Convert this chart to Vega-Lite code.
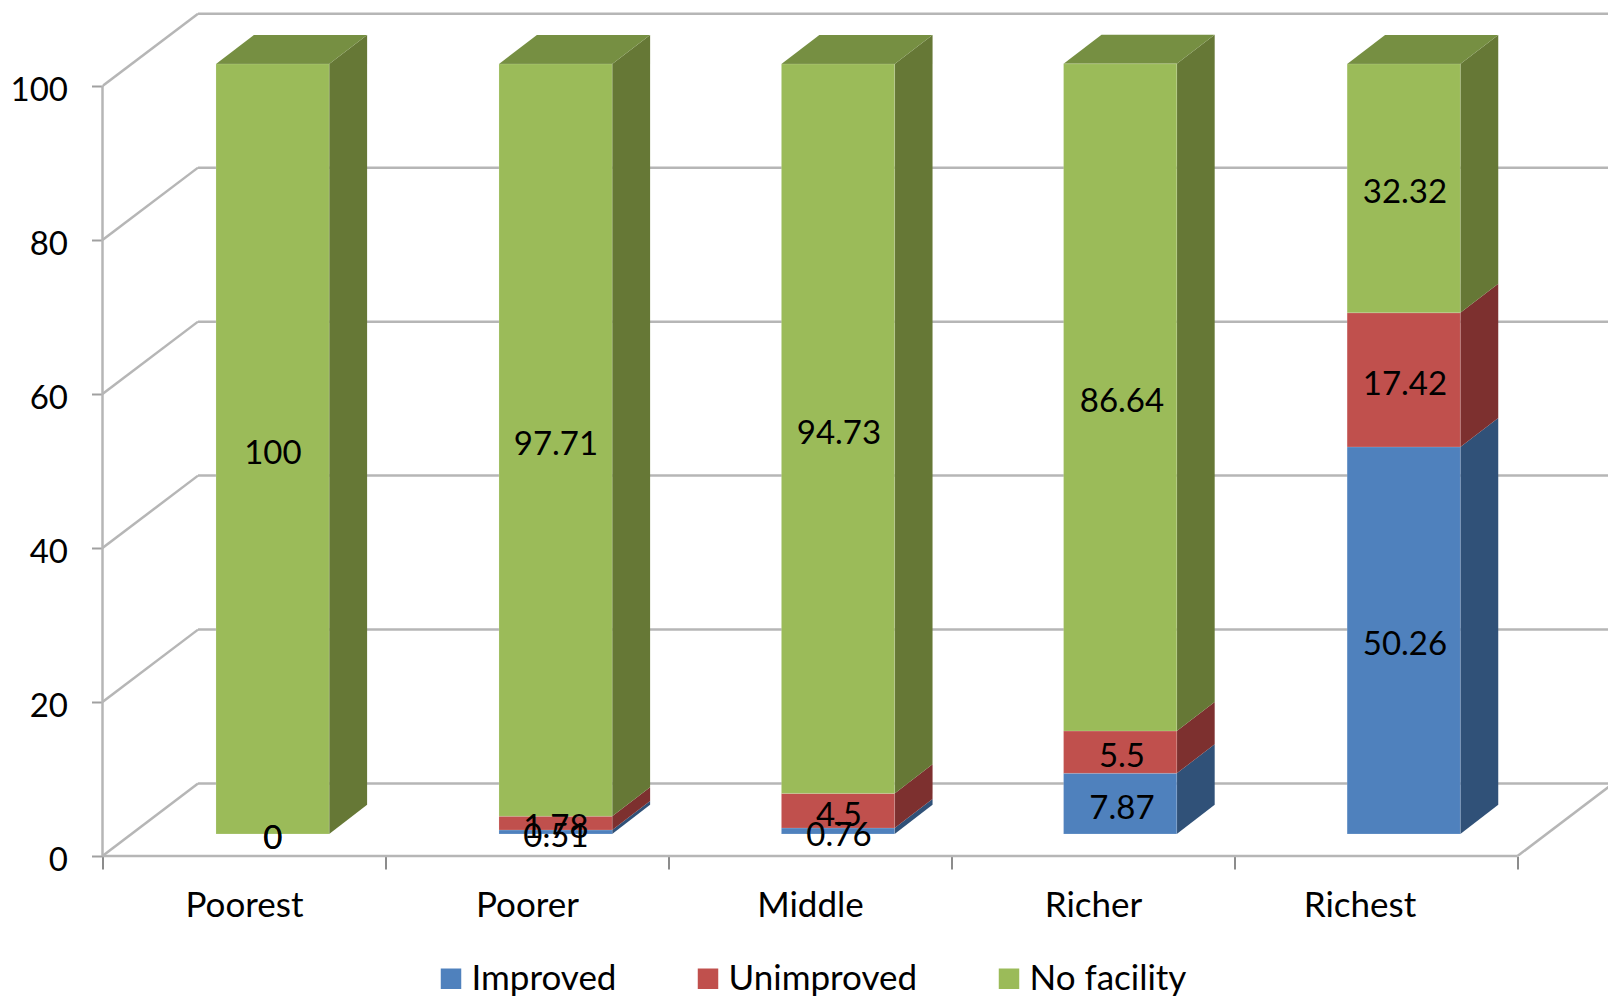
{
  "$schema": "https://vega.github.io/schema/vega-lite/v6.json",
  "width": 1505.5,
  "height": 856,
  "autosize": "none",
  "padding": {"left": 102.5, "top": 0, "right": 0, "bottom": 140},
  "background": "white",
  "config": {"view": {"stroke": null}, "font": "Lato"},
  "datasets": {
    "shares": [
      {"wealth": "Poorest", "facility": "Improved", "share": 0},
      {"wealth": "Poorest", "facility": "Unimproved", "share": 0},
      {"wealth": "Poorest", "facility": "No facility", "share": 100},
      {"wealth": "Poorer", "facility": "Improved", "share": 0.51},
      {"wealth": "Poorer", "facility": "Unimproved", "share": 1.78},
      {"wealth": "Poorer", "facility": "No facility", "share": 97.71},
      {"wealth": "Middle", "facility": "Improved", "share": 0.76},
      {"wealth": "Middle", "facility": "Unimproved", "share": 4.5},
      {"wealth": "Middle", "facility": "No facility", "share": 94.73},
      {"wealth": "Richer", "facility": "Improved", "share": 7.87},
      {"wealth": "Richer", "facility": "Unimproved", "share": 5.5},
      {"wealth": "Richer", "facility": "No facility", "share": 86.64},
      {"wealth": "Richest", "facility": "Improved", "share": 50.26},
      {"wealth": "Richest", "facility": "Unimproved", "share": 17.42},
      {"wealth": "Richest", "facility": "No facility", "share": 32.32}
    ],
    "levels": [
      {"level": 0}, {"level": 20}, {"level": 40}, {"level": 60}, {"level": 80}, {"level": 100}
    ]
  },
  "data": {"name": "shares"},
  "transform": [
    {"calculate": "indexof(['Poorest','Poorer','Middle','Richer','Richest'], datum.wealth)", "as": "slot"},
    {"calculate": "indexof(['Improved','Unimproved','No facility'], datum.facility)", "as": "tier"},
    {"stack": "share", "groupby": ["wealth"], "sort": [{"field": "tier", "order": "ascending"}], "as": ["stack0", "stack1"]},
    {"calculate": "[0.401, 1.401, 2.399, 3.396, 4.398][datum.slot]", "as": "left"},
    {"calculate": "datum.left + 0.4", "as": "right"},
    {"calculate": "datum.stack0 + 2.87", "as": "low"},
    {"calculate": "datum.stack1 + 2.87", "as": "high"},
    {"calculate": "datum.wealth + ' ' + datum.facility", "as": "segment"}
  ],
  "encoding": {
    "x": {"type": "quantitative", "scale": {"domain": [0, 5.3198], "nice": false, "zero": false}},
    "y": {"type": "quantitative", "scale": {"domain": [0, 111.17], "nice": false, "zero": false}}
  },
  "layer": [
    {
      "description": "Back wall gridlines, and the axes that belong to the frame",
      "data": {"name": "levels"},
      "mark": {"type": "rule", "color": "#B6B6B6", "strokeWidth": 2.5, "clip": true},
      "transform": [{"calculate": "datum.level + 9.4", "as": "backLevel"}],
      "encoding": {
        "x": {
          "datum": 0.3375,
          "type": "quantitative",
          "axis": {
            "title": null,
            "domain": false,
            "grid": false,
            "values": [0, 1, 2, 3, 4, 5],
            "labelExpr": "['Poorest','Poorer','Middle','Richer','Richest',''][datum.value]",
            "labelOffset": {"condition": {"test": "datum.value === 4", "value": 125}, "value": 141.5},
            "labelFontSize": 35,
            "labelColor": "black",
            "labelPadding": 19,
            "labelBaseline": "top",
            "labelAlign": "center",
            "labelFlush": false,
            "labelOverlap": false,
            "tickColor": "#8C8C8C",
            "tickSize": 13,
            "tickWidth": 2
          }
        },
        "x2": {"datum": 5.34},
        "y": {
          "field": "backLevel",
          "type": "quantitative",
          "axis": {
            "title": null,
            "domain": false,
            "grid": false,
            "values": [0, 20, 40, 60, 80, 100],
            "labelFontSize": 33,
            "labelColor": "black",
            "labelPadding": 24,
            "labelOffset": 4,
            "tickColor": "#A0A0A0",
            "tickSize": 11,
            "tickWidth": 2
          }
        }
      }
    },
    {
      "description": "Side wall and left floor edges running back from each tick",
      "data": {"name": "levels"},
      "mark": {"type": "line", "color": "#B6B6B6", "strokeWidth": 2.5, "clip": true},
      "transform": [
        {"calculate": "[0, 1]", "as": "depth"},
        {"flatten": ["depth"]},
        {"calculate": "datum.depth * 0.3375", "as": "wallX"},
        {"calculate": "datum.level + datum.depth * 9.4", "as": "wallY"}
      ],
      "encoding": {
        "x": {"field": "wallX", "type": "quantitative"},
        "y": {"field": "wallY", "type": "quantitative"},
        "detail": {"field": "level"}
      }
    },
    {
      "description": "Right floor edge",
      "data": {"name": "levels"},
      "mark": {"type": "line", "color": "#B6B6B6", "strokeWidth": 2.5, "clip": true},
      "transform": [
        {"filter": "datum.level === 0"},
        {"calculate": "[0, 1]", "as": "depth"},
        {"flatten": ["depth"]},
        {"calculate": "5 + datum.depth * 0.3375", "as": "wallX"},
        {"calculate": "datum.depth * 9.4", "as": "wallY"}
      ],
      "encoding": {
        "x": {"field": "wallX", "type": "quantitative"},
        "y": {"field": "wallY", "type": "quantitative"}
      }
    },
    {
      "description": "Front edge of the floor",
      "data": {"name": "levels"},
      "mark": {"type": "rule", "color": "#B6B6B6", "strokeWidth": 2.5},
      "transform": [{"filter": "datum.level === 0"}],
      "encoding": {
        "x": {"datum": 0, "type": "quantitative"},
        "x2": {"datum": 5},
        "y": {"field": "level", "type": "quantitative"}
      }
    },
    {
      "description": "Vertical wall edge at the value axis",
      "data": {"name": "levels"},
      "mark": {"type": "rule", "color": "#B6B6B6", "strokeWidth": 2.5},
      "transform": [{"filter": "datum.level === 0"}],
      "encoding": {
        "x": {"datum": 0, "type": "quantitative"},
        "y": {"datum": 0, "type": "quantitative"},
        "y2": {"datum": 100}
      }
    },
    {
      "description": "Shaded right side of each stacked segment",
      "mark": {"type": "area", "orient": "vertical", "opacity": 1},
      "transform": [
        {"calculate": "[0, 1]", "as": "depth"},
        {"flatten": ["depth"]},
        {"calculate": "datum.right + datum.depth * 0.134", "as": "sideX"},
        {"calculate": "datum.low + datum.depth * 3.77", "as": "sideLow"},
        {"calculate": "datum.high + datum.depth * 3.77", "as": "sideHigh"}
      ],
      "encoding": {
        "x": {"field": "sideX", "type": "quantitative"},
        "y": {"field": "sideLow", "type": "quantitative", "stack": null},
        "y2": {"field": "sideHigh"},
        "detail": {"field": "segment"},
        "color": {
          "field": "facility",
          "type": "nominal",
          "legend": null,
          "scale": {"domain": ["Improved", "Unimproved", "No facility"], "range": ["#305178", "#7D302F", "#667836"]}
        }
      }
    },
    {
      "description": "Top face of each column",
      "mark": {"type": "area", "orient": "vertical", "color": "#768F42"},
      "transform": [
        {"filter": "datum.tier === 2"},
        {"calculate": "[0, 1, 2, 3]", "as": "corner"},
        {"flatten": ["corner"]},
        {"calculate": "[datum.left, datum.left + 0.134, datum.right, datum.right + 0.134][datum.corner]", "as": "topX"},
        {"calculate": "datum.high + [0, 0, 0, 3.77][datum.corner]", "as": "topLow"},
        {"calculate": "datum.high + [0, 3.77, 3.77, 3.77][datum.corner]", "as": "topHigh"}
      ],
      "encoding": {
        "x": {"field": "topX", "type": "quantitative"},
        "y": {"field": "topLow", "type": "quantitative", "stack": null},
        "y2": {"field": "topHigh"},
        "detail": {"field": "wealth"}
      }
    },
    {
      "description": "Front face of each stacked segment",
      "mark": {"type": "rect", "stroke": "white", "strokeOpacity": 0.15, "strokeWidth": 1},
      "encoding": {
        "x": {"field": "left", "type": "quantitative"},
        "x2": {"field": "right"},
        "y": {"field": "low", "type": "quantitative"},
        "y2": {"field": "high"},
        "color": {
          "field": "facility",
          "type": "nominal",
          "scale": {"domain": ["Improved", "Unimproved", "No facility"], "range": ["#4F81BD", "#C0504D", "#9BBB59"]},
          "legend": {
            "title": null,
            "orient": "none",
            "legendX": 331,
            "legendY": 961,
            "direction": "horizontal",
            "columns": 3,
            "padding": 0,
            "symbolType": "square",
            "symbolSize": 420,
            "symbolStrokeWidth": 0,
            "symbolOpacity": 1,
            "labelFontSize": 35,
            "labelColor": "black",
            "labelOffset": 3,
            "columnPadding": 74,
            "labelLimit": 400
          }
        }
      }
    },
    {
      "description": "Value printed on each segment",
      "mark": {"type": "text", "fontSize": 33, "color": "black", "baseline": "middle", "dy": 5},
      "transform": [
        {"calculate": "datum.slot + 0.6022", "as": "center"},
        {"calculate": "(datum.low + datum.high) / 2", "as": "middle"}
      ],
      "encoding": {
        "x": {"field": "center", "type": "quantitative"},
        "y": {"field": "middle", "type": "quantitative", "stack": null},
        "text": {"field": "share", "type": "nominal"}
      }
    }
  ],
  "resolve": {"scale": {"color": "independent"}}
}
